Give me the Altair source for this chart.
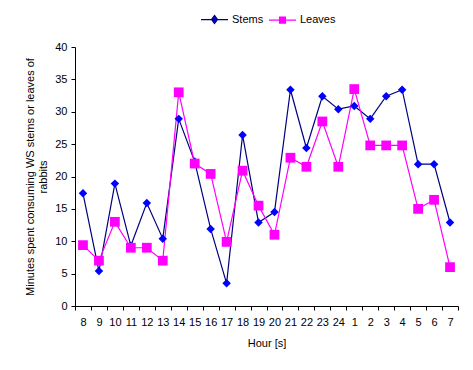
import altair as alt
import pandas as pd

hours = ["8", "9", "10", "11", "12", "13", "14", "15", "16", "17", "18", "19", "20",
         "21", "22", "23", "24", "1", "2", "3", "4", "5", "6", "7"]
stems = [17.4, 5.4, 18.9, 9.3, 15.9, 10.4, 28.9, 22.3, 11.9, 3.5, 26.4, 12.9, 14.5,
         33.4, 24.4, 32.4, 30.4, 30.9, 28.9, 32.4, 33.4, 21.9, 21.9, 12.9]
leaves = [9.4, 7.0, 13.0, 9.0, 9.0, 7.0, 33.0, 22.0, 20.4, 9.9, 20.9, 15.5, 11.0,
          22.9, 21.5, 28.5, 21.5, 33.5, 24.8, 24.8, 24.8, 15.0, 16.4, 6.0]
series = ["Stems", "Leaves"]

rows = []
for i, h in enumerate(hours):
    rows.append({"hour": h, "series": "Stems", "value": stems[i]})
    rows.append({"hour": h, "series": "Leaves", "value": leaves[i]})
df = pd.DataFrame(rows)

FONT = "Liberation Sans"

x = alt.X("hour:N", sort=hours,
          scale=alt.Scale(type="band", paddingInner=0, paddingOuter=0),
          axis=alt.Axis(title="Hour [s]", labelAngle=0, tickBand="extent",
                        tickSize=4, labelPadding=6, titlePadding=10))
y = alt.Y("value:Q", scale=alt.Scale(domain=[0, 40], nice=False),
          axis=alt.Axis(title=["Minutes spent consuming WS stems or leaves of", "rabbits"],
                        values=[0, 5, 10, 15, 20, 25, 30, 35, 40], grid=False,
                        tickSize=4, labelPadding=4, titlePadding=6))

base = alt.Chart(df)
stem_base = base.transform_filter(alt.datum.series == "Stems")
leaf_base = base.transform_filter(alt.datum.series == "Leaves")

stem_line = stem_base.mark_line(strokeWidth=1.2, color="#000080").encode(x=x, y=y)
leaf_line = leaf_base.mark_line(strokeWidth=1.2, color="#FF00FF").encode(x=x, y=y)

stem_pts = stem_base.mark_point(
    shape="diamond", filled=True, opacity=1, strokeWidth=0, size=72, color="#0000FF"
).encode(x=x, y=y)

leaf_pts = leaf_base.mark_point(
    shape="square", filled=True, opacity=1, strokeWidth=0, size=95, color="#FF00FF"
).encode(x=x, y=y)

legend_shapes = [
    "M-1,0H1M0,-0.3L0.22,0L0,0.3L-0.22,0Z",
    "M-1,0H1M-0.22,-0.22H0.22V0.22H-0.22Z",
]
legend_spec = alt.Legend(title=None, orient="none", direction="horizontal",
                         legendX=125, legendY=-42, symbolSize=729,
                         symbolOpacity=1, symbolStrokeWidth=1.2,
                         labelFont=FONT, labelFontSize=11, labelColor="black",
                         labelOffset=3, columnPadding=2)
# legend-only layer: no marks drawn (empty after filter), domain set explicitly
legend_layer = base.transform_filter("false").mark_point(
    filled=False, opacity=1, strokeWidth=1.2
).encode(
    x=x, y=y,
    stroke=alt.Stroke("series:N", scale=alt.Scale(domain=series, range=["#000080", "#FF00FF"]),
                      legend=legend_spec),
    fill=alt.Fill("series:N", scale=alt.Scale(domain=series, range=["#0000FF", "#FF00FF"]),
                  legend=legend_spec),
    shape=alt.Shape("series:N", scale=alt.Scale(domain=series, range=legend_shapes),
                    legend=legend_spec),
)

chart = alt.layer(stem_line, leaf_line, stem_pts, leaf_pts, legend_layer).properties(
    width=383, height=259,
    autosize=alt.AutoSizeParams(type="none"),
    padding={"left": 67, "top": 39, "right": 7, "bottom": 56},
).configure_view(stroke=None).configure_axis(
    labelFont=FONT, labelFontSize=11, labelColor="black",
    titleFont=FONT, titleFontSize=11, titleColor="black", titleFontWeight="normal",
    domainColor="black", tickColor="black", domainWidth=1, tickWidth=1,
)

chart.save("out.html", embed_options={"renderer": "svg", "actions": False})
